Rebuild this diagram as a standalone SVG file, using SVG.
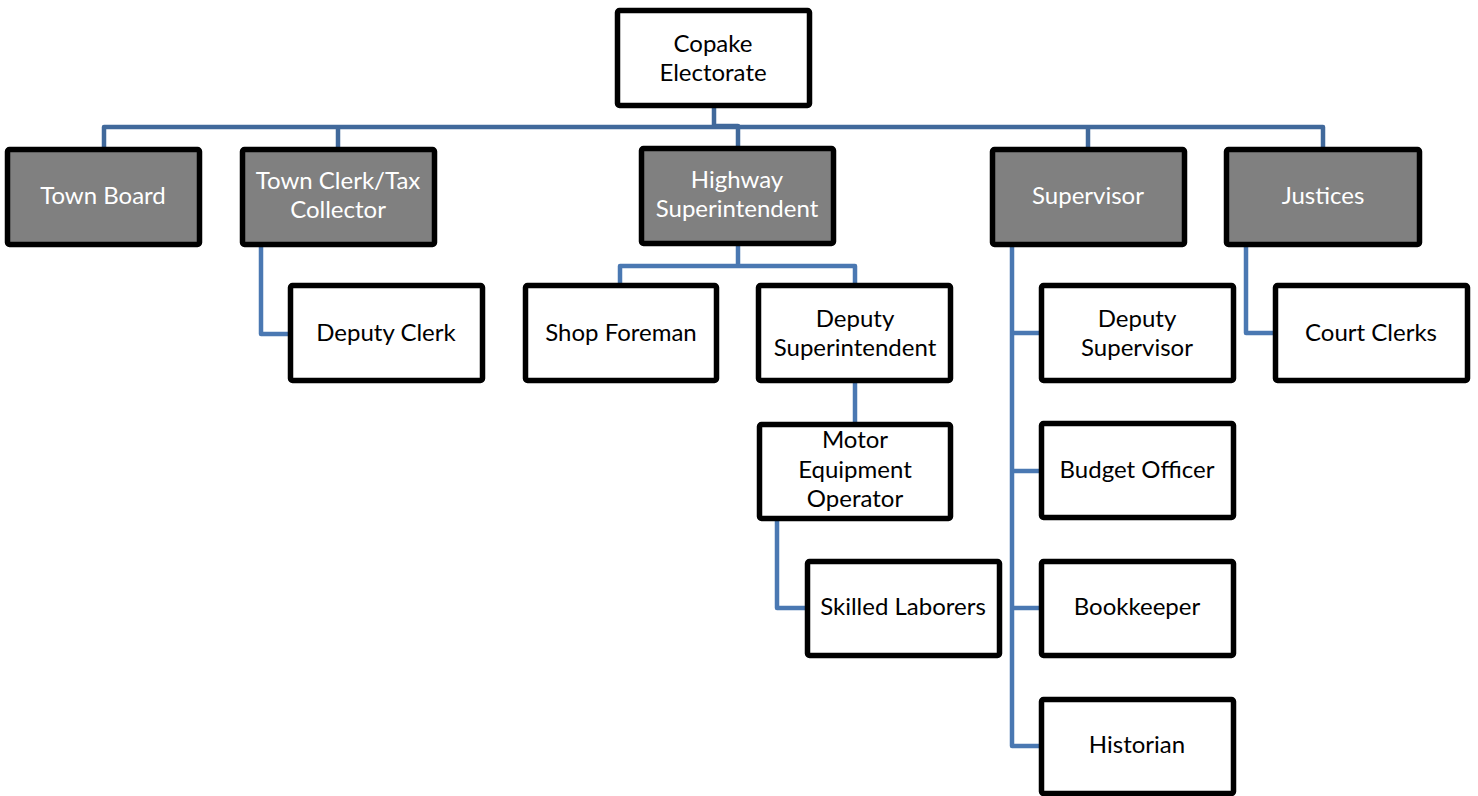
<svg xmlns="http://www.w3.org/2000/svg" width="1478" height="796" viewBox="0 0 1478 796">
<style>
.box{stroke:#000;stroke-width:5.5;}
.w{fill:#fff;}
.g{fill:#808080;}
text{font-family:Lato,"Open Sans","Liberation Sans",sans-serif;font-size:24px;text-anchor:middle;}
.tw{fill:#fff;}
.tb{fill:#000;}
.c{fill:none;stroke:#4A78B2;stroke-width:4.5;stroke-linejoin:round;}
.top{stroke:#41699B;}
</style>
<rect width="1478" height="796" fill="#fff"/>
<g id="connectors">
<path class="c top" d="M714,108 V126 H738 V146"/>
<path class="c top" d="M104,147 V127 H1323 V147"/>
<path class="c top" d="M338,127 V147"/>
<path class="c top" d="M1088,127 V147"/>
<path class="c" d="M261,247 V334 H288"/>
<path class="c" d="M738,246 V266"/>
<path class="c" d="M620,283 V266 H855 V283"/>
<path class="c" d="M855,383 V422"/>
<path class="c" d="M777,521 V608 H805"/>
<path class="c" d="M1012,247 V746 H1039"/>
<path class="c" d="M1012,333 H1039"/>
<path class="c" d="M1012,471 H1039"/>
<path class="c" d="M1012,608 H1039"/>
<path class="c" d="M1246,247 V333 H1273"/>
</g>
<g id="copake"><rect class="box w" x="617.5" y="10.5" width="192" height="95" rx="2"/><text class="tb" x="713" y="52">Copake</text><text class="tb" x="713" y="81">Electorate</text></g>
<g id="town-board"><rect class="box g" x="7.5" y="149.5" width="192" height="95" rx="2"/><text class="tw" x="103" y="204">Town Board</text></g>
<g id="town-clerk"><rect class="box g" x="242.5" y="149.5" width="192" height="95" rx="2"/><text class="tw" x="338" y="189">Town Clerk/Tax</text><text class="tw" x="338" y="218">Collector</text></g>
<g id="highway"><rect class="box g" x="641.5" y="148.5" width="192" height="95" rx="2"/><text class="tw" x="737" y="188">Highway</text><text class="tw" x="737" y="217">Superintendent</text></g>
<g id="supervisor"><rect class="box g" x="992.5" y="149.5" width="192" height="95" rx="2"/><text class="tw" x="1088" y="204">Supervisor</text></g>
<g id="justices"><rect class="box g" x="1226.5" y="149.5" width="193" height="95" rx="2"/><text class="tw" x="1323" y="204">Justices</text></g>
<g id="deputy-clerk"><rect class="box w" x="290.5" y="285.5" width="192" height="95" rx="2"/><text class="tb" x="386" y="341">Deputy Clerk</text></g>
<g id="shop-foreman"><rect class="box w" x="525.5" y="285.5" width="191" height="95" rx="2"/><text class="tb" x="621" y="341">Shop Foreman</text></g>
<g id="deputy-superintendent"><rect class="box w" x="758.5" y="285.5" width="192" height="95" rx="2"/><text class="tb" x="855" y="327">Deputy</text><text class="tb" x="855" y="356">Superintendent</text></g>
<g id="motor"><rect class="box w" x="759.5" y="424.5" width="191" height="94" rx="2"/><text class="tb" x="855" y="448">Motor</text><text class="tb" x="855" y="478">Equipment</text><text class="tb" x="855" y="507">Operator</text></g>
<g id="skilled"><rect class="box w" x="807.5" y="561.5" width="192" height="94" rx="2"/><text class="tb" x="903" y="615">Skilled Laborers</text></g>
<g id="deputy-supervisor"><rect class="box w" x="1041.5" y="285.5" width="192" height="95" rx="2"/><text class="tb" x="1137" y="327">Deputy</text><text class="tb" x="1137" y="356">Supervisor</text></g>
<g id="budget"><rect class="box w" x="1041.5" y="423.5" width="192" height="94" rx="2"/><text class="tb" x="1137" y="478">Budget Officer</text></g>
<g id="bookkeeper"><rect class="box w" x="1041.5" y="561.5" width="192" height="94" rx="2"/><text class="tb" x="1137" y="615">Bookkeeper</text></g>
<g id="historian"><rect class="box w" x="1041.5" y="699.5" width="192" height="94" rx="2"/><text class="tb" x="1137" y="753">Historian</text></g>
<g id="court-clerks"><rect class="box w" x="1275.5" y="285.5" width="192" height="95" rx="2"/><text class="tb" x="1371" y="341">Court Clerks</text></g>
</svg>
